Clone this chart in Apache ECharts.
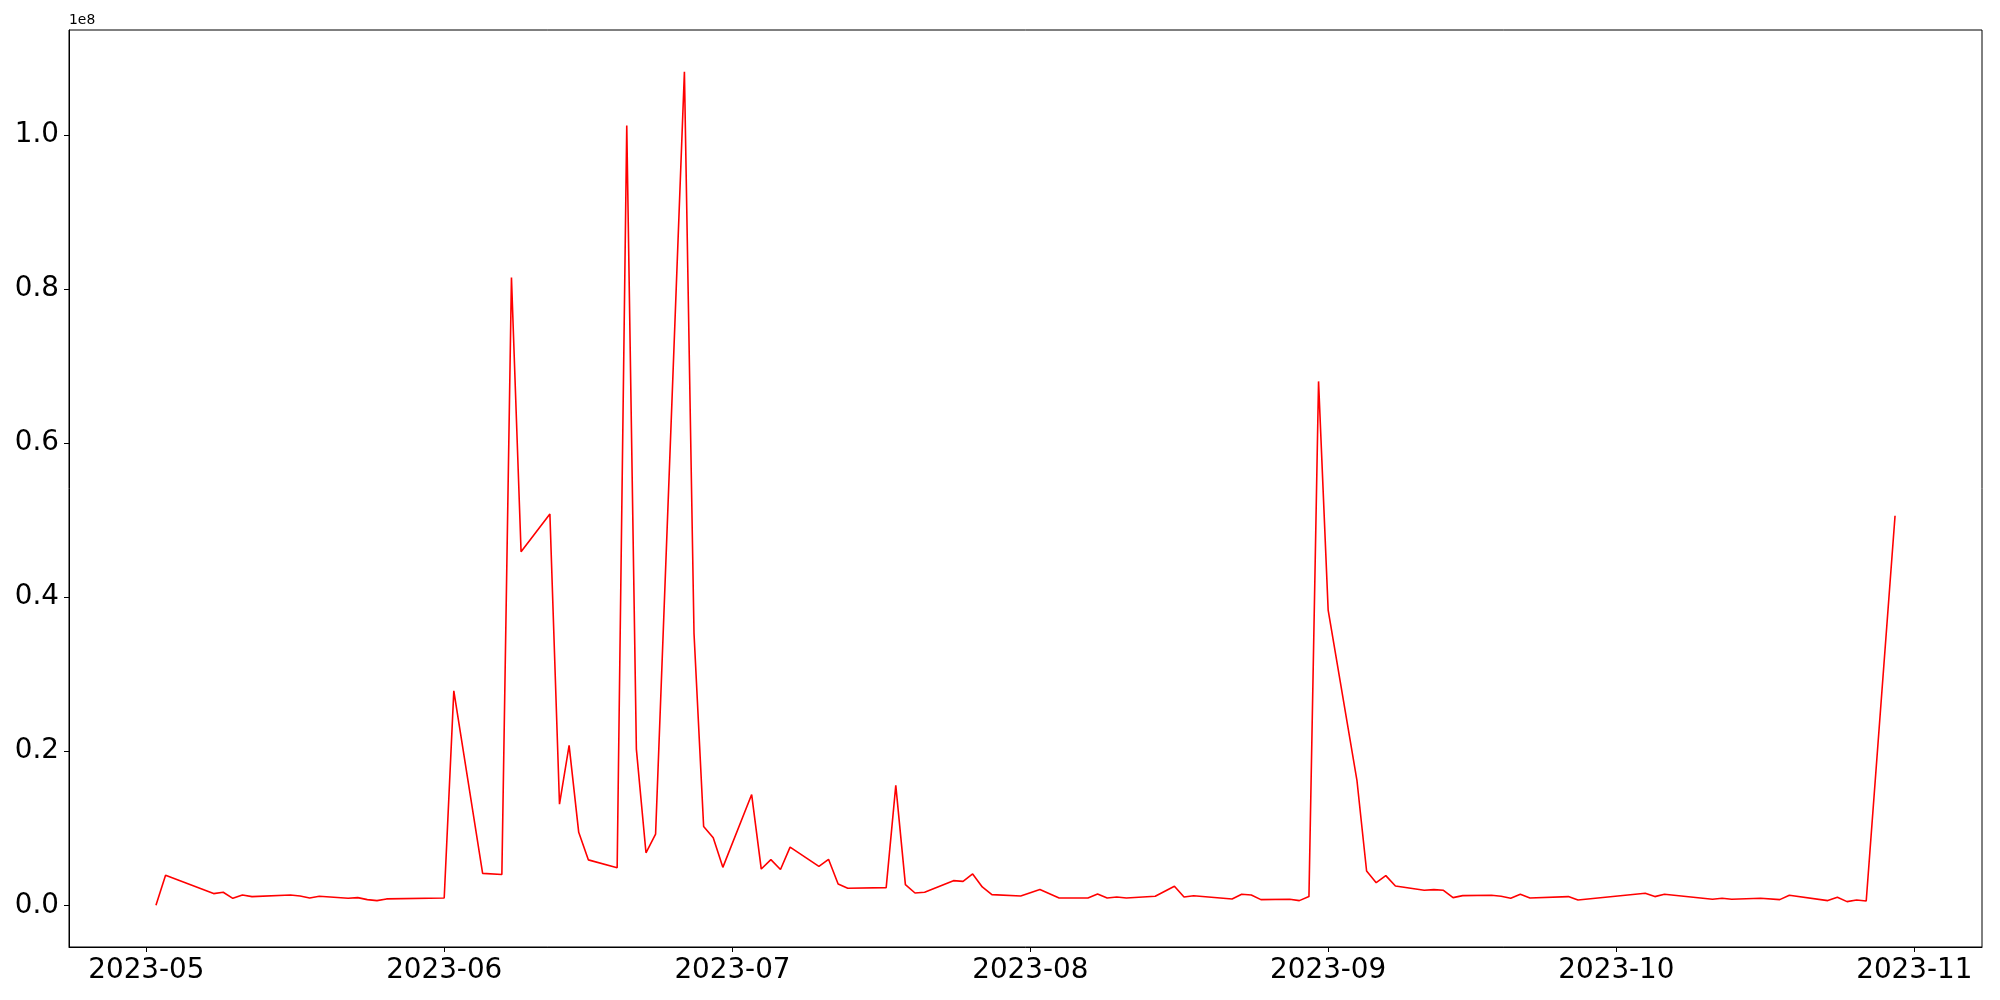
<!DOCTYPE html>
<html>
<head>
<meta charset="utf-8">
<script src="https://cdn.jsdelivr.net/npm/echarts@6/dist/echarts.min.js"></script>
<style>
html,body{margin:0;padding:0;background:#fff;}
#chart{width:2000px;height:1000px;}
</style>
</head>
<body>
<div id="chart"></div>
<script>
const dates = [
 '2023-05-02','2023-05-03','2023-05-08','2023-05-09','2023-05-10','2023-05-11','2023-05-12',
 '2023-05-16','2023-05-17','2023-05-18','2023-05-19','2023-05-22','2023-05-23','2023-05-24',
 '2023-05-25','2023-05-26','2023-06-01','2023-06-02','2023-06-05','2023-06-07','2023-06-08',
 '2023-06-09','2023-06-12','2023-06-13','2023-06-14','2023-06-15','2023-06-16','2023-06-19',
 '2023-06-20','2023-06-21','2023-06-22','2023-06-23','2023-06-26','2023-06-27','2023-06-28',
 '2023-06-29','2023-06-30','2023-07-03','2023-07-04','2023-07-05','2023-07-06','2023-07-07',
 '2023-07-10','2023-07-11','2023-07-12','2023-07-13','2023-07-17','2023-07-18','2023-07-19',
 '2023-07-20','2023-07-21','2023-07-24','2023-07-25','2023-07-26','2023-07-27','2023-07-28',
 '2023-07-31','2023-08-02','2023-08-04','2023-08-07','2023-08-08','2023-08-09','2023-08-10',
 '2023-08-11','2023-08-14','2023-08-16','2023-08-17','2023-08-18','2023-08-22','2023-08-23',
 '2023-08-24','2023-08-25','2023-08-28','2023-08-29','2023-08-30','2023-08-31','2023-09-01',
 '2023-09-04','2023-09-05','2023-09-06','2023-09-07','2023-09-08','2023-09-11','2023-09-12',
 '2023-09-13','2023-09-14','2023-09-15','2023-09-18','2023-09-19','2023-09-20','2023-09-21',
 '2023-09-22','2023-09-26','2023-09-27','2023-10-04','2023-10-05','2023-10-06','2023-10-11',
 '2023-10-12','2023-10-13','2023-10-16','2023-10-18','2023-10-19','2023-10-23','2023-10-24',
 '2023-10-25','2023-10-26','2023-10-27','2023-10-30'
];
const values = [
 0, 3890000, 1520000, 1690000, 910000, 1340000, 1130000,
 1340000, 1210000, 950000, 1170000, 910000, 1000000, 740000,
 610000, 830000, 950000, 27830000, 4150000, 4000000, 81490000,
 45900000, 50800000, 13120000, 20750000, 9470000, 5900000, 4870000,
 101200000, 20280000, 6820000, 9250000, 108200000, 35290000, 10240000,
 8780000, 4930000, 14380000, 4710000, 5930000, 4650000, 7560000,
 5060000, 5970000, 2770000, 2210000, 2290000, 15560000, 2680000,
 1600000, 1690000, 3200000, 3110000, 4070000, 2380000, 1390000,
 1210000, 2040000, 950000, 950000, 1470000, 950000, 1080000,
 950000, 1170000, 2470000, 1080000, 1250000, 820000, 1430000,
 1340000, 740000, 780000, 610000, 1130000, 68000000, 38300000,
 16170000, 4450000, 2940000, 3850000, 2510000, 1950000, 2040000,
 1950000, 1000000, 1260000, 1300000, 1170000, 910000, 1430000,
 950000, 1130000, 690000, 1560000, 1130000, 1430000, 780000,
 910000, 780000, 910000, 740000, 1300000, 610000, 1040000,
 480000, 690000, 560000, 50560000
];
const xTickMonths = ['2023-05','2023-06','2023-07','2023-08','2023-09','2023-10','2023-11'];
const yTickValues = [0, 20000000, 40000000, 60000000, 80000000, 100000000];
const yOffsetLabel = '1e8';

const DAY = 86400000;
function parseDate(s){const p=s.split('-').map(Number);return Date.UTC(p[0],p[1]-1,p[2]||1);}
const firstT = parseDate(dates[0]), lastT = parseDate(dates[dates.length-1]);
const xPad = (lastT-firstT)*0.05;
const vMin = Math.min(...values), vMax = Math.max(...values);
const yPad = (vMax-vMin)*0.05;
const xTicks = xTickMonths.map(parseDate);
function xLabel(v){
  for (let i=0;i<xTicks.length;i++){ if (Math.abs(xTicks[i]-v) < DAY/2) return xTickMonths[i]; }
  return '';
}

const font = 'DejaVu Sans';
const chart = echarts.init(document.getElementById('chart'), null, {renderer:'canvas'});
chart.setOption({
  animation:false,
  backgroundColor:'#ffffff',
  grid:{left:69, right:18, top:30, bottom:53, show:true, borderColor:'#000', borderWidth:1, backgroundColor:'transparent', containLabel:false},
  xAxis:{
    type:'value', min:firstT-xPad, max:lastT+xPad, scale:true,
    axisLine:{show:true, onZero:false, lineStyle:{color:'#000', width:1}},
    axisTick:{show:true, inside:false, length:5, lineStyle:{color:'#000', width:1}, customValues:xTicks},
    axisLabel:{show:true, margin:10, color:'#000', fontFamily:font, fontSize:27.8, customValues:xTicks,
      formatter:xLabel, hideOverlap:false, showMinLabel:true, showMaxLabel:true},
    splitLine:{show:false}, minorTick:{show:false}
  },
  yAxis:{
    type:'value', min:vMin-yPad, max:vMax+yPad, scale:true,
    name:yOffsetLabel, nameLocation:'end', nameGap:0,
    nameTextStyle:{fontFamily:font, fontSize:13.9, color:'#000', align:'left', verticalAlign:'bottom', padding:[0,0,3,0]},
    axisLine:{show:true, onZero:false, lineStyle:{color:'#000', width:1}},
    axisTick:{show:true, inside:false, length:5, lineStyle:{color:'#000', width:1}, customValues:yTickValues},
    axisLabel:{show:true, margin:10, color:'#000', fontFamily:font, fontSize:27.8, customValues:yTickValues,
      formatter:function(v){return (v/1e8).toFixed(1);}},
    splitLine:{show:false}
  },
  series:[{
    type:'line',
    data:dates.map((d,i)=>[parseDate(d), values[i]]),
    showSymbol:false, symbol:'none',
    lineStyle:{color:'#ff0000', width:1.6},
    itemStyle:{color:'#ff0000'},
    smooth:false
  }]
});
</script>
</body>
</html>
